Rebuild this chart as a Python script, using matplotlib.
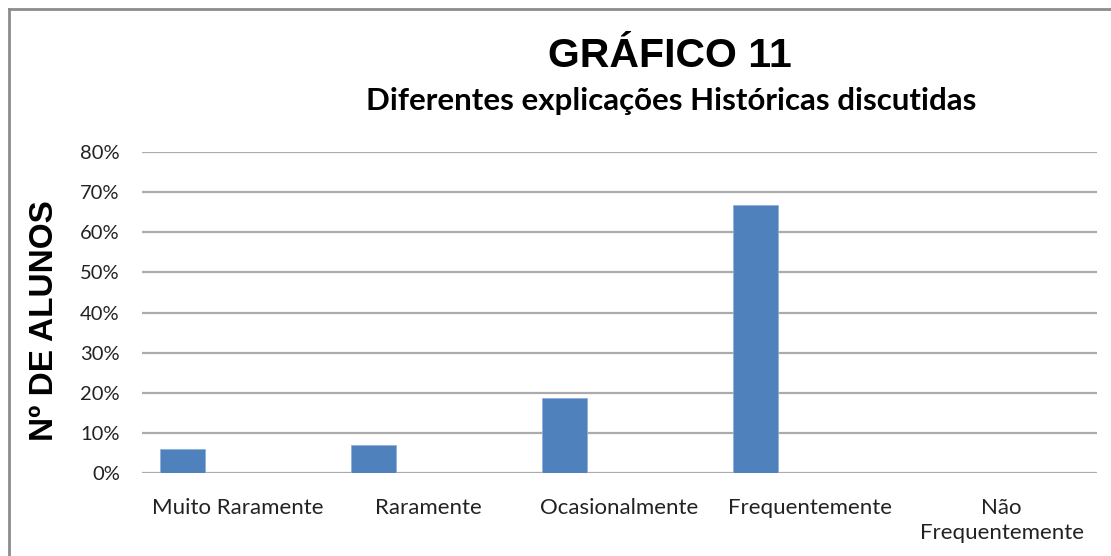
import matplotlib
matplotlib.use("Agg")
import matplotlib.pyplot as plt
from matplotlib.lines import Line2D
from matplotlib.ticker import FuncFormatter

categories = ["Muito Raramente", "Raramente", "Ocasionalmente", "Frequentemente", "Não\nFrequentemente"]
values = [5.9, 6.9, 18.7, 66.9, 0.0]
yticks = [0, 10, 20, 30, 40, 50, 60, 70, 80]

W, H = 1111, 556
fig = plt.figure(figsize=(W / 100, H / 100), dpi=100)
ax = fig.add_axes([142 / W, 1 - 473 / H, (1097 - 142) / W, (473 - 152) / H])

x = list(range(len(categories)))
ax.bar([i - 0.288 for i in x], values, width=0.236, color="#4F81BD",
       edgecolor="#8EB0DA", linewidth=0.6, zorder=3)

ax.set_xlim(-0.5, len(categories) - 0.5)
ax.set_ylim(0, 80)
ax.set_yticks(yticks)
ax.yaxis.set_major_formatter(FuncFormatter(lambda v, p: f"{v:.0f}%"))
ax.set_xticks(x)
ax.set_xticklabels(categories, fontsize=16, family="Lato", color="#222222",
                   linespacing=1.3, va="top")
for lbl in ax.get_yticklabels():
    lbl.set_family("Lato")
    lbl.set_fontsize(14.5)
    lbl.set_color("#222222")
ax.tick_params(axis="y", length=0, pad=16)
ax.tick_params(axis="x", length=0, pad=18)
ax.grid(axis="y", color="#ABABAB", linewidth=1.6, zorder=0)
for s in ["top", "right", "left", "bottom"]:
    ax.spines[s].set_visible(False)

fig.text(45 / W, 1 - 321 / H, "Nº DE ALUNOS", rotation=90, ha="center", va="center",
         fontsize=24, fontweight="bold", family="Liberation Sans")
fig.text(670 / W, 1 - 67 / H, "GRÁFICO 11", ha="center", va="baseline",
         fontsize=29.5, fontweight="bold", family="Liberation Sans")
fig.text(671 / W, 1 - 110 / H, "Diferentes explicações Históricas discutidas", ha="center",
         va="baseline", fontsize=22.5, fontweight="bold", family="Lato")

# moldura do gráfico
fig.add_artist(Line2D([9 / W, 9 / W], [0, 1 - 9 / H], color="#8C8C8C", linewidth=2))
fig.add_artist(Line2D([9 / W, 1], [1 - 9 / H, 1 - 9 / H], color="#8C8C8C", linewidth=2))

fig.savefig("out.png", dpi=100)
